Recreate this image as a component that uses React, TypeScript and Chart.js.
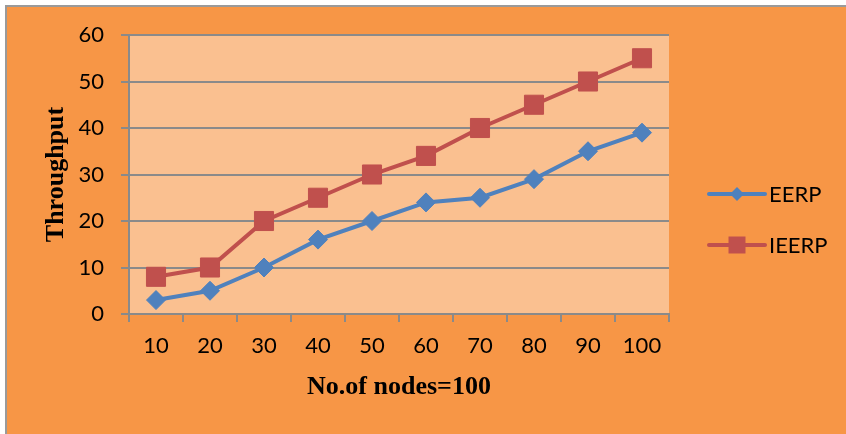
import React, { useEffect, useRef } from "react";
import { Chart, registerables } from "chart.js";

Chart.register(...registerables);

// Number of nodes on the x axis
const nodeCounts = ["10", "20", "30", "40", "50", "60", "70", "80", "90", "100"];
// Throughput per protocol
const eerpThroughput = [3, 5, 10, 16, 20, 24, 25, 29, 35, 39];
const ieerpThroughput = [8, 10, 20, 25, 30, 34, 40, 45, 50, 55];
// Y axis range
const yMin = 0;
const yMax = 60;
const yStep = 10;

const seriesNames = ["EERP", "IEERP"];

const OUTER_BG = "#F79646";
const PLOT_BG = "#FAC090";
const GRID = "#8A8A8A";
const BLUE = "#4F81BD";
const RED = "#C0504D";
const TICK_FONT = { family: "Lato", size: 22 };
const TITLE_FONT = { family: "Liberation Serif", size: 26, weight: "bold" as const };

// Page frame, orange panel and the peach plot area
const backgroundPlugin = {
  id: "panelBackground",
  beforeDraw(chart: Chart) {
    const { ctx, width, height, chartArea } = chart;
    ctx.save();
    ctx.fillStyle = "#ffffff";
    ctx.fillRect(0, 0, width, height);
    ctx.fillStyle = OUTER_BG;
    ctx.fillRect(5, 5, width - 5, height - 5);
    ctx.strokeStyle = "#9A9A9A";
    ctx.lineWidth = 2;
    ctx.beginPath();
    ctx.moveTo(6, height);
    ctx.lineTo(6, 6);
    ctx.lineTo(width, 6);
    ctx.stroke();
    ctx.fillStyle = PLOT_BG;
    ctx.fillRect(chartArea.left, chartArea.top, chartArea.right - chartArea.left, chartArea.bottom - chartArea.top);
    ctx.restore();
  },
};

// Legend on the right: line segment with the series marker, then the name
const sideLegendPlugin = {
  id: "sideLegend",
  afterDraw(chart: Chart) {
    const { ctx, chartArea } = chart;
    const x0 = chartArea.right + 40;
    const lineLen = 56;
    chart.data.datasets.forEach((ds: any, i: number) => {
      const y = chartArea.top + 159 + i * 51;
      const color = ds.borderColor as string;
      ctx.save();
      ctx.strokeStyle = color;
      ctx.lineWidth = 4;
      ctx.lineCap = "round";
      ctx.beginPath();
      ctx.moveTo(x0, y);
      ctx.lineTo(x0 + lineLen, y);
      ctx.stroke();
      const cx = x0 + lineLen / 2;
      ctx.fillStyle = color;
      ctx.beginPath();
      if (ds.pointStyle === "rectRot") {
        const r = 7;
        ctx.moveTo(cx, y - r);
        ctx.lineTo(cx + r, y);
        ctx.lineTo(cx, y + r);
        ctx.lineTo(cx - r, y);
        ctx.closePath();
      } else {
        const s = 8.5;
        ctx.rect(cx - s, y - s, 2 * s, 2 * s);
      }
      ctx.fill();
      ctx.fillStyle = "#000000";
      ctx.font = `${TICK_FONT.size}px ${TICK_FONT.family}`;
      ctx.textAlign = "left";
      ctx.textBaseline = "middle";
      ctx.fillText(ds.label, x0 + lineLen + 4, y + 1);
      ctx.restore();
    });
  },
};

export default function App() {
  const canvasRef = useRef<HTMLCanvasElement | null>(null);

  useEffect(() => {
    if (!canvasRef.current) return;
    const chart = new Chart(canvasRef.current, {
      type: "line",
      data: {
        labels: nodeCounts,
        datasets: [
          {
            label: seriesNames[0],
            data: eerpThroughput,
            borderColor: BLUE,
            backgroundColor: BLUE,
            borderWidth: 4,
            pointStyle: "rectRot",
            pointRadius: 9.5,
            pointBorderWidth: 1,
            pointBackgroundColor: BLUE,
            pointBorderColor: BLUE,
            tension: 0,
          },
          {
            label: seriesNames[1],
            data: ieerpThroughput,
            borderColor: RED,
            backgroundColor: RED,
            borderWidth: 4,
            pointStyle: "rect",
            pointRadius: 13.5,
            pointBorderWidth: 1,
            pointBackgroundColor: RED,
            pointBorderColor: RED,
            tension: 0,
          },
        ],
      },
      options: {
        responsive: false,
        animation: false,
        layout: { padding: { left: 0, top: 35, right: 177, bottom: 0 } },
        plugins: {
          legend: { display: false },
          tooltip: { enabled: false },
        },
        scales: {
          x: {
            offset: true,
            grid: {
              offset: true,
              drawOnChartArea: false,
              drawTicks: true,
              tickLength: 8,
              color: GRID,
              lineWidth: 2,
            },
            border: { display: true, color: GRID, width: 2 },
            ticks: { color: "#000000", font: TICK_FONT, padding: 11, maxRotation: 0 },
            title: {
              display: true,
              text: "No.of nodes=100",
              color: "#000000",
              font: TITLE_FONT,
              padding: { top: 0, bottom: 31 },
            },
            afterFit(scale: any) {
              scale.height = 120;
            },
          },
          y: {
            min: yMin,
            max: yMax,
            grid: {
              drawTicks: true,
              tickLength: 8,
              color: GRID,
              lineWidth: 2,
            },
            border: { display: true, color: GRID, width: 2 },
            ticks: { stepSize: yStep, color: "#000000", font: TICK_FONT, padding: 17 },
            title: {
              display: true,
              text: "Throughput",
              color: "#000000",
              font: TITLE_FONT,
              padding: { top: 41, bottom: 0 },
            },
            afterFit(scale: any) {
              scale.width = 129;
            },
          },
        },
      },
      plugins: [backgroundPlugin, sideLegendPlugin],
    });
    return () => chart.destroy();
  }, []);

  return (
    <div style={{ position: "absolute", left: 0, top: 0, width: 846, height: 434 }}>
      <canvas ref={canvasRef} width={846} height={434} />
    </div>
  );
}
